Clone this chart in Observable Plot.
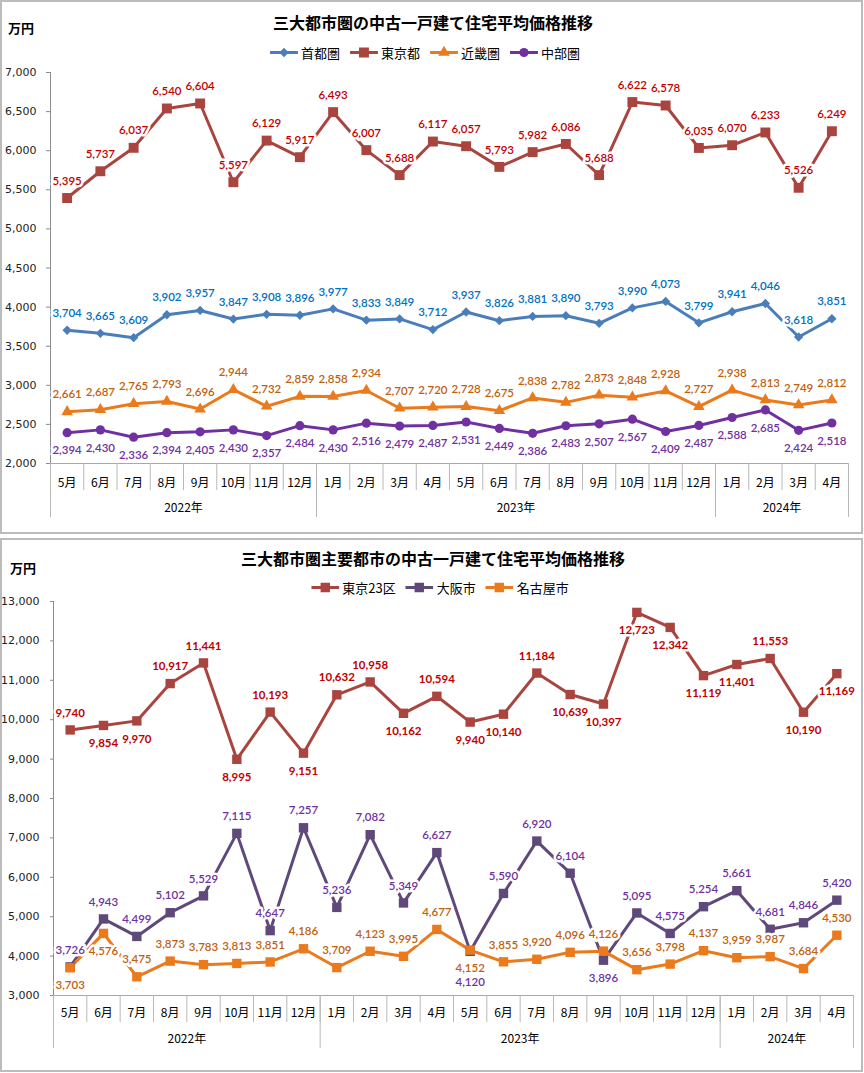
<!DOCTYPE html>
<html><head><meta charset="utf-8">
<script src="https://cdn.jsdelivr.net/npm/d3@7"></script>
<script src="https://cdn.jsdelivr.net/npm/@observablehq/plot@0.6"></script>
<style>
body{margin:0;background:#fff;}
#page{position:relative;width:864px;height:1073px;overflow:hidden;font-family:"Noto Sans CJK JP",sans-serif;background:#fff;}
.frame{position:absolute;border:2px solid #bcbcbc;box-sizing:border-box;pointer-events:none;}
.title{position:absolute;font-weight:bold;font-size:16px;white-space:nowrap;transform:translate(-50%,-50%);color:#000;}
.unit{position:absolute;font-weight:bold;font-size:13px;white-space:nowrap;transform:translate(0,-50%);color:#000;}
.legend{position:absolute;display:flex;align-items:center;transform:translate(-50%,-50%);font-size:13px;white-space:nowrap;color:#000;}
.legend .item{display:flex;align-items:center;margin-right:10px;}
.legend .item:last-child{margin-right:0;}
.legend .item svg{margin-right:3px;}
.chart{position:absolute;left:0;}
</style>
</head><body>
<div id="page"></div>
<script>
// ---- shared categories ----
const monthLabels = ["5月","6月","7月","8月","9月","10月","11月","12月","1月","2月","3月","4月","5月","6月","7月","8月","9月","10月","11月","12月","1月","2月","3月","4月"];
const yearLabels = ["2022年","2023年","2024年"];
const yearMonthCounts = [8,12,4];

// ---- chart 1 ----
const title1 = "三大都市圏の中古一戸建て住宅平均価格推移";
const series1Names = ["首都圏","東京都","近畿圏","中部圏"];
const shutoken = [3704,3665,3609,3902,3957,3847,3908,3896,3977,3833,3849,3712,3937,3826,3881,3890,3793,3990,4073,3799,3941,4046,3618,3851];
const tokyoto = [5395,5737,6037,6540,6604,5597,6129,5917,6493,6007,5688,6117,6057,5793,5982,6086,5688,6622,6578,6035,6070,6233,5526,6249];
const kinki = [2661,2687,2765,2793,2696,2944,2732,2859,2858,2934,2707,2720,2728,2675,2838,2782,2873,2848,2928,2727,2938,2813,2749,2812];
const chubu = [2394,2430,2336,2394,2405,2430,2357,2484,2430,2516,2479,2487,2531,2449,2386,2483,2507,2567,2409,2487,2588,2685,2424,2518];
const yTicks1 = [2000,2500,3000,3500,4000,4500,5000,5500,6000,6500,7000];

// ---- chart 2 ----
const title2 = "三大都市圏主要都市の中古一戸建て住宅平均価格推移";
const series2Names = ["東京23区","大阪市","名古屋市"];
const tokyo23 = [9740,9854,9970,10917,11441,8995,10193,9151,10632,10958,10162,10594,9940,10140,11184,10639,10397,12723,12342,11119,11401,11553,10190,11169];
const osaka = [3726,4943,4499,5102,5529,7115,4647,7257,5236,7082,5349,6627,4120,5590,6920,6104,3896,5095,4575,5254,5661,4681,4846,5420];
const nagoya = [3703,4576,3475,3873,3783,3813,3851,4186,3709,4123,3995,4677,4152,3855,3920,4096,4126,3656,3798,4137,3959,3987,3684,4530];
const yTicks2 = [3000,4000,5000,6000,7000,8000,9000,10000,11000,12000,13000];

// label placement (t = above, b = below, B = further below)
const tokyo23LabelSide = ["t","b","b","t","t","b","t","b","t","t","b","t","b","b","t","b","b","b","b","b","b","t","b","b"];
const osakaLabelSide   = ["t","t","t","t","t","t","t","t","t","t","t","t","B","t","t","t","b","t","t","t","t","t","t","t"];
const nagoyaLabelSide  = ["b","b","t","t","t","t","t","t","t","t","t","t","b","t","t","t","t","t","t","t","t","t","t","t"];

const fmt = d3.format(",");
const symbolMap = {square: d3.symbolSquare, circle: d3.symbolCircle, triangle: d3.symbolTriangle, diamond2: d3.symbolDiamond2};

function buildChart(cfg) {
  const n = monthLabels.length;
  const bounds = [0];
  yearMonthCounts.forEach(c => bounds.push(bounds[bounds.length-1] + c));
  const yearCenters = yearMonthCounts.map((c,k) => bounds[k] + c/2);
  const marks = [
    Plot.ruleY([cfg.yDomain[0]], {stroke:"#a8a8a8", strokeWidth:1}),
    Plot.axisX({ticks: d3.range(n+1), tickSize: cfg.monthSep, tickFormat: () => "", stroke:"#b8b8b8", strokeOpacity:1, label: null}),
    Plot.axisX({ticks: bounds, tickSize: cfg.yearSep, tickFormat: () => "", stroke:"#b8b8b8", strokeOpacity:1, label: null}),
    Plot.axisX({ticks: d3.range(n).map(i => i + 0.5), tickSize:0, tickPadding: cfg.monthPad, label: null,
      tickFormat: d => monthLabels[Math.floor(d)], fontSize: 12, fontFamily: "Noto Sans CJK JP", fill:"#000"}),
    Plot.axisX({ticks: yearCenters, tickSize:0, tickPadding: cfg.yearPad, label: null,
      tickFormat: d => yearLabels[yearCenters.indexOf(d)], fontSize: 12, fontFamily: "Noto Sans CJK JP", fill:"#000"}),
    Plot.axisY({ticks: cfg.yTicks, tickSize: cfg.yTickSize, tickPadding: cfg.yTickPad, tickFormat: fmt, label: null,
      fontSize: 11, fontFamily: "DejaVu Sans", fill:"#222", stroke:"#8c8c8c", strokeOpacity:1}),
    Plot.ruleX([0], {stroke:"#8c8c8c"})
  ];
  cfg.series.forEach(s => {
    const rows = s.values.map((v,i) => ({x: i + 0.5, v, side: s.side[i]}));
    s.rows = rows;
    marks.push(Plot.line(rows, {x:"x", y:"v", stroke: s.color, strokeWidth: 3, strokeLinejoin:"round"}));
  });
  cfg.series.forEach(s => {
    marks.push(Plot.dot(s.rows, {x:"x", y:"v", symbol: s.symbol, r: s.r, fill: s.color, stroke: "none"}));
  });
  const offsets = {t: -17, b: 18, B: 31};
  cfg.series.forEach(s => {
    for (const side of ["t","b","B"]) {
      marks.push(Plot.text(s.rows.filter(d => d.side === side), {
        x:"x", y:"v", text: d => fmt(d.v), dy: offsets[side],
        fill: s.labelColor, stroke:"white", strokeWidth: 5, paintOrder:"stroke",
        fontSize: 11.5, fontFamily: "Lato, 'Open Sans', sans-serif", fontWeight: s.labelWeight || 600
      }));
    }
  });
  return Plot.plot({
    width: 864, height: cfg.height,
    marginTop: cfg.mt, marginBottom: cfg.mb, marginLeft: cfg.ml, marginRight: cfg.mr,
    x: {type:"linear", domain:[0, n], label: null},
    y: {domain: cfg.yDomain, label: null},
    style: {fontFamily: "Lato, sans-serif", fontSize: "11px", background: "transparent", overflow: "visible"},
    marks
  });
}

function legendHTML(items) {
  const div = document.createElement("div");
  div.className = "legend";
  items.forEach(it => {
    const item = document.createElement("div");
    item.className = "item";
    const path = d3.symbol(symbolMap[it.symbol], Math.PI * it.r * it.r)();
    item.innerHTML = `<svg width="28" height="14"><line x1="0" y1="7" x2="28" y2="7" stroke="${it.color}" stroke-width="3"/><path d="${path}" transform="translate(14,7)" fill="${it.color}"/></svg><span>${it.name}</span>`;
    div.appendChild(item);
  });
  return div;
}

const page = document.getElementById("page");
function place(el, x, y) { el.style.left = x + "px"; el.style.top = y + "px"; page.appendChild(el); return el; }
function mk(cls, text) { const d = document.createElement("div"); d.className = cls; if (text) d.textContent = text; return d; }

// ---- chart 1 ----
const s1 = [
  {name: series1Names[0], values: shutoken, color:"#4a7ebb", labelColor:"#0070c0", symbol:"diamond2", r:4.2, side: shutoken.map(() => "t")},
  {name: series1Names[1], values: tokyoto, color:"#a9443f", labelColor:"#c00000", symbol:"square", r:5.6, side: tokyoto.map(() => "t")},
  {name: series1Names[2], values: kinki, color:"#ea7a1c", labelColor:"#c0600c", symbol:"triangle", r:4.3, side: kinki.map(() => "t")},
  {name: series1Names[3], values: chubu, color:"#7030a0", labelColor:"#7030a0", symbol:"circle", r:4.6, side: chubu.map(() => "b")}
];
const c1 = buildChart({series: s1, yDomain:[2000,7000], yTicks: yTicks1, height:536, mt:72, mb:73, ml:50, mr:16,
  monthSep:27, yearSep:54, monthPad:15, yearPad:40, yTickSize:4, yTickPad:10});
c1.classList.add("chart"); c1.style.top = "0px"; page.appendChild(c1);
place(mk("frame"), 0, 0).style.cssText += "width:863px;height:534px;";
place(mk("title", title1), 433, 22);
place(mk("unit", "万円"), 8, 27);
place(legendHTML(s1), 425, 52);

// ---- chart 2 ----
const s2 = [
  {name: series2Names[0], values: tokyo23, color:"#a9443f", labelColor:"#c00000", symbol:"square", r:5.3, side: tokyo23LabelSide, labelWeight: 700},
  {name: series2Names[1], values: osaka, color:"#5f497a", labelColor:"#7030a0", symbol:"square", r:5.3, side: osakaLabelSide},
  {name: series2Names[2], values: nagoya, color:"#ea7a1c", labelColor:"#c0600c", symbol:"square", r:5.3, side: nagoyaLabelSide}
];
const c2 = buildChart({series: s2, yDomain:[3000,13000], yTicks: yTicks2, height:537, mt:65, mb:78, ml:53, mr:11,
  monthSep:27, yearSep:53, monthPad:13, yearPad:39, yTickSize:3, yTickPad:11});
c2.classList.add("chart"); c2.style.top = "536px"; page.appendChild(c2);
place(mk("frame"), 0, 538).style.cssText += "width:863px;height:534px;";
place(mk("title", title2), 433, 558);
place(mk("unit", "万円"), 10, 567);
place(legendHTML(s2), 440, 587);
</script>
</body></html>
